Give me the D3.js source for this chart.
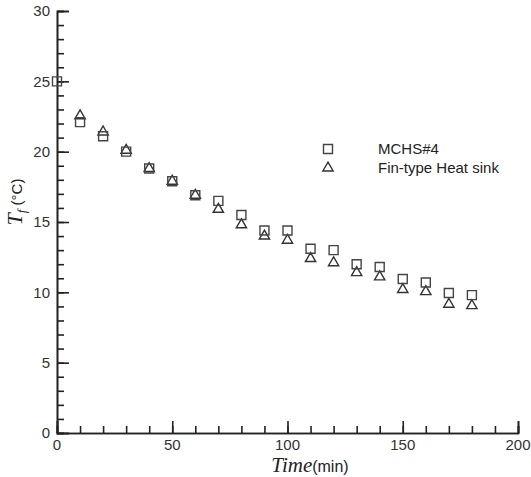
<!DOCTYPE html>
<html>
<head>
<meta charset="utf-8">
<script src="https://cdn.jsdelivr.net/npm/d3@7"></script>
<style>
  body { margin: 0; background: #fff; }
  svg text { font-family: Arial, "Liberation Sans", Helvetica, sans-serif; }
</style>
</head>
<body>
<script>
// time (min)
var times = [0, 10, 20, 30, 40, 50, 60, 70, 80, 90, 100, 110, 120, 130, 140, 150, 160, 170, 180];
// MCHS#4 (squares)
var mchs = [25.0, 22.1, 21.1, 20.0, 18.8, 17.9, 16.9, 16.5, 15.5, 14.4, 14.4, 13.1, 13.0, 12.0, 11.8, 10.95, 10.7, 9.95, 9.8];
// Fin-type heat sink (triangles), first point hidden under the square
var fin = [null, 22.55, 21.4, 20.1, 18.8, 17.9, 16.9, 15.9, 14.8, 14.0, 13.7, 12.4, 12.1, 11.4, 11.1, 10.2, 10.05, 9.15, 9.05];
var xTicks = [0, 50, 100, 150, 200];
var yTicks = [0, 5, 10, 15, 20, 25, 30];
var seriesNames = ["MCHS#4", "Fin-type Heat sink"];

var W = 531, H = 477;
var margin = {top: 11, right: 13, bottom: 44, left: 57};
var w = W - margin.left - margin.right,
    h = H - margin.top - margin.bottom;

var svg = d3.select("body").append("svg")
    .attr("width", W)
    .attr("height", H);

var g = svg.append("g")
    .attr("transform", "translate(" + margin.left + "," + margin.top + ")");

var xScale = d3.scaleLinear().domain([0, 200]).range([0, w]);
var yScale = d3.scaleLinear().domain([0, 30]).range([h, 0]);

var axisColor = "#222", labelColor = "#333";

// minor ticks (inward)
var xAxisMinor = d3.axisTop(xScale).tickValues(d3.range(0, 201, 10)).tickSize(7).tickFormat("");
var yAxisMinor = d3.axisRight(yScale).tickValues(d3.range(0, 31, 1)).tickSize(7).tickFormat("");
var xAxisMajor = d3.axisTop(xScale).tickValues(xTicks).tickSize(12).tickFormat("");
var yAxisMajor = d3.axisRight(yScale).tickValues(yTicks).tickSize(12).tickFormat("");

[[xAxisMinor, "x"], [xAxisMajor, "x"], [yAxisMinor, "y"], [yAxisMajor, "y"]].forEach(function(a) {
  var ax = g.append("g")
    .attr("transform", a[1] == "x" ? "translate(0," + h + ")" : null)
    .call(a[0]);
  ax.selectAll("line").attr("stroke", axisColor).attr("stroke-width", 1.6);
  ax.select(".domain").attr("stroke", axisColor).attr("stroke-width", 1.6);
});

// tick labels
g.selectAll(".xlab").data(xTicks).enter().append("text")
  .attr("x", function(d) { return xScale(d); })
  .attr("y", h + 17)
  .attr("text-anchor", "middle")
  .attr("font-size", 15)
  .attr("fill", labelColor)
  .text(function(d) { return d; });

g.selectAll(".ylab").data(yTicks).enter().append("text")
  .attr("x", -7)
  .attr("y", function(d) { return yScale(d); })
  .attr("dy", "0.36em")
  .attr("text-anchor", "end")
  .attr("font-size", 15)
  .attr("fill", labelColor)
  .text(function(d) { return d; });

// markers
var sq = d3.symbol().type(d3.symbolSquare).size(81);
var tri = d3.symbol().type(d3.symbolTriangle).size(46);

var ptsSq = times.map(function(t, i) { return {t: t, v: mchs[i]}; });
var ptsTri = times.map(function(t, i) { return {t: t, v: fin[i]}; }).filter(function(d) { return d.v != null; });

g.selectAll(".tri").data(ptsTri).enter().append("path")
  .attr("d", tri)
  .attr("transform", function(d) { return "translate(" + xScale(d.t) + "," + yScale(d.v) + ")"; })
  .attr("fill", "none").attr("stroke", "#333").attr("stroke-width", 1.4);

g.selectAll(".sq").data(ptsSq).enter().append("path")
  .attr("d", sq)
  .attr("transform", function(d) { return "translate(" + xScale(d.t) + "," + yScale(d.v) + ")"; })
  .attr("fill", "none").attr("stroke", "#444").attr("stroke-width", 1.4);

// legend
var lg = svg.append("g");
lg.append("path").attr("d", sq).attr("transform", "translate(328,149)")
  .attr("fill", "none").attr("stroke", "#444").attr("stroke-width", 1.4);
lg.append("path").attr("d", tri).attr("transform", "translate(328,168)")
  .attr("fill", "none").attr("stroke", "#333").attr("stroke-width", 1.4);
lg.selectAll(".lt").data(seriesNames).enter().append("text")
  .attr("x", 378)
  .attr("y", function(d, i) { return 149 + i * 19; })
  .attr("dy", "0.36em")
  .attr("font-size", 15)
  .attr("fill", "#222")
  .text(function(d) { return d; });

// x axis title
var xt = svg.append("text")
  .attr("x", 310)
  .attr("y", 472)
  .attr("text-anchor", "middle")
  .attr("fill", "#222");
xt.append("tspan")
  .style("font-family", "'Liberation Serif', 'DejaVu Serif', serif")
  .style("font-style", "italic")
  .attr("font-size", 21)
  .text("Time");
xt.append("tspan")
  .attr("font-size", 16)
  .text("(min)");

// y axis title
var yt = svg.append("text")
  .attr("transform", "translate(22,202) rotate(-90)")
  .attr("text-anchor", "middle")
  .attr("fill", "#222");
yt.append("tspan")
  .style("font-family", "'Liberation Serif', 'DejaVu Serif', serif")
  .style("font-style", "italic")
  .attr("font-size", 22)
  .text("T");
yt.append("tspan")
  .style("font-family", "'Liberation Serif', 'DejaVu Serif', serif")
  .style("font-style", "italic")
  .attr("font-size", 13)
  .attr("dy", 4)
  .text("f");
yt.append("tspan")
  .attr("font-size", 15)
  .attr("dy", -4)
  .text(" (°C)");
</script>
</body>
</html>
